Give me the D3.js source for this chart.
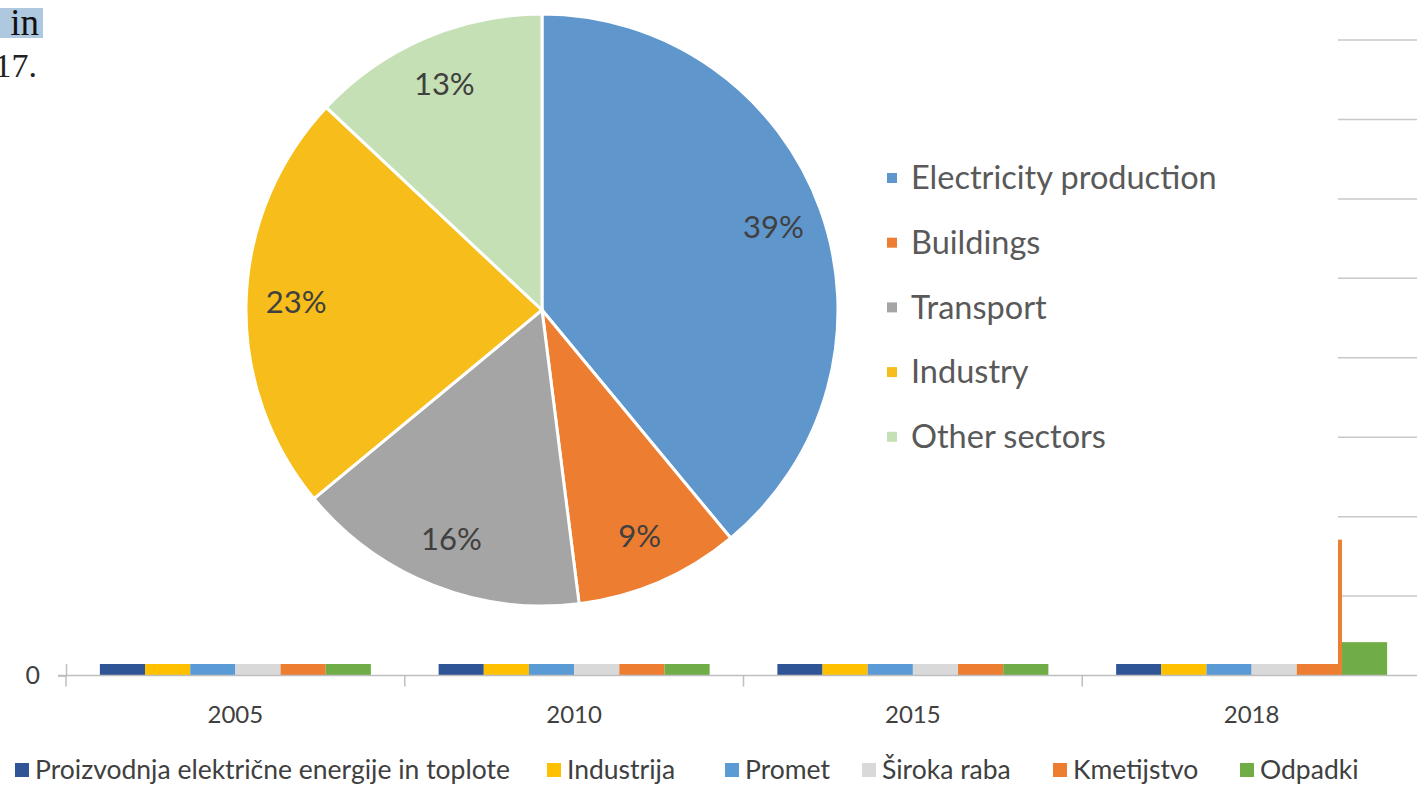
<!DOCTYPE html>
<html>
<head>
<meta charset="utf-8">
<script src="https://cdn.jsdelivr.net/npm/d3@7"></script>
<style>
  body { margin: 0; background: #fff; }
  svg { display: block; font-family: Lato, "Open Sans", sans-serif; }
</style>
</head>
<body>
<svg id="chart" width="1417" height="785"></svg>
<script>
// bar chart underneath (mostly hidden behind the pasted pie picture)
const years = ["2005", "2010", "2015", "2018"];
const sectors = ["Proizvodnja električne energije in toplote", "Industrija", "Promet", "Široka raba", "Kmetijstvo", "Odpadki"];
const sectorColors = ["#2f5597", "#ffc000", "#5b9bd5", "#d9d9d9", "#ed7d31", "#70ad47"];
// values per sector, one per year (kt CO2 eq, estimated; only 2018 Kmetijstvo / Odpadki are visible)
const proizvodnja = [6500, 6300, 4600, 4700];
const industrija = [3000, 2400, 2100, 2100];
const promet = [4500, 5400, 5400, 5800];
const sirokaRaba = [2000, 1800, 1200, 1200];
const kmetijstvo = [1800, 1750, 1700, 1710];
const odpadki = [650, 600, 450, 420];
const gridTicks = [1000, 2000, 3000, 4000, 5000, 6000, 7000, 8000];
const yLabelTicks = [0];   // the other labels sit behind the pasted picture

// pie on top
const pieLabels = ["Electricity production", "Buildings", "Transport", "Industry", "Other sectors"];
const pieValues = [39, 9, 16, 23, 13];
const pieColors = ["#5f97cd", "#ed7d31", "#a5a5a5", "#f6bd1b", "#c6e0b5"];

const svg = d3.select("#chart");
const seriesValues = [proizvodnja, industrija, promet, sirokaRaba, kmetijstvo, odpadki];

const x0 = d3.scaleBand().domain(years).range([66, 1421]);
const x1 = d3.scaleBand().domain(sectors)
    .range([x0.bandwidth() * 0.1, x0.bandwidth() * 0.9]);
const y = d3.scaleLinear().domain([0, 8000]).range([675.5, 40]);
const color = d3.scaleOrdinal().domain(sectors).range(sectorColors);

// gridlines
svg.append("g")
    .selectAll("line")
    .data(gridTicks)
    .enter()
    .append("line")
      .attr("x1", 66).attr("x2", 1417)
      .attr("y1", d => y(d)).attr("y2", d => y(d))
      .attr("stroke", "#c8c8c8").attr("stroke-width", 1.5);

// bars
const groups = svg.append("g")
    .selectAll("g")
    .data(years)
    .enter()
    .append("g")
      .attr("transform", d => `translate(${x0(d)},0)`);

groups.selectAll("rect")
    .data((yr, i) => sectors.map((s, j) => ({sector: s, value: seriesValues[j][i]})))
    .enter()
    .append("rect")
      .attr("x", d => x1(d.sector))
      .attr("width", x1.bandwidth())
      .attr("y", d => y(d.value))
      .attr("height", d => y(0) - y(d.value))
      .attr("fill", d => color(d.sector));

// x axis
const xAxis = svg.append("g")
    .attr("transform", `translate(0,${y(0)})`)
    .call(d3.axisBottom(x0).tickSize(0).tickPadding(30))
    .call(g => g.select(".domain").remove());
xAxis.selectAll("text")
    .attr("font-family", "Lato, 'Open Sans', sans-serif")
    .attr("font-size", 24).attr("fill", "#404040");

svg.append("line")
    .attr("x1", 58).attr("x2", 1417)
    .attr("y1", y(0)).attr("y2", y(0))
    .attr("stroke", "#bfbfbf").attr("stroke-width", 1.5);

// category separators
svg.append("g")
    .selectAll("line")
    .data(years)
    .enter()
    .append("line")
      .attr("x1", d => x0(d)).attr("x2", d => x0(d))
      .attr("y1", y(0)).attr("y2", y(0) + 11)
      .attr("stroke", "#bfbfbf").attr("stroke-width", 1.5);

// y axis
const yAxis = svg.append("g")
    .attr("transform", "translate(66,0)")
    .call(d3.axisLeft(y).tickValues(yLabelTicks).tickSize(8).tickPadding(18))
    .call(g => g.select(".domain").attr("stroke", "#bfbfbf").attr("stroke-width", 1.5));
yAxis.selectAll("line").attr("stroke", "#bfbfbf").attr("stroke-width", 1.5);
yAxis.selectAll("text")
    .attr("font-family", "Lato, 'Open Sans', sans-serif")
    .attr("font-size", 25).attr("fill", "#404040");

// bottom legend
const legendX = [15, 547, 725, 862, 1053, 1240];
const legend = svg.append("g").attr("transform", "translate(0,770)");
sectors.forEach((s, i) => {
    legend.append("rect")
        .attr("x", legendX[i]).attr("y", -7)
        .attr("width", 14).attr("height", 14)
        .attr("fill", color(s));
    legend.append("text")
        .attr("x", legendX[i] + 20)
        .attr("y", 0)
        .attr("dy", "0.35em")
        .attr("font-size", 26.5)
        .attr("fill", "#404040")
        .text(s);
});

// pasted picture with the pie on top of the bar chart
const paste = svg.append("g");
paste.append("rect")
    .attr("x", 0).attr("y", 0)
    .attr("width", 1338).attr("height", 664)
    .attr("fill", "#fff");

// fragment of document text in the corner
paste.append("rect")
    .attr("x", 0).attr("y", 8).attr("width", 43).attr("height", 30)
    .attr("fill", "#aec8df");
paste.append("text")
    .attr("x", 39).attr("y", 35)
    .attr("text-anchor", "end")
    .attr("font-family", "'Liberation Serif', serif")
    .attr("font-size", 37).attr("fill", "#111")
    .text("in");
paste.append("text")
    .attr("x", 37).attr("y", 77)
    .attr("text-anchor", "end")
    .attr("font-family", "'Liberation Serif', serif")
    .attr("font-size", 34).attr("fill", "#222")
    .text("17.");

const cx = 542, cy = 310, radius = 296;
const pie = d3.pie().sort(null).value(d => d);
const arc = d3.arc().innerRadius(0).outerRadius(radius);
const labelArc = d3.arc().innerRadius(246).outerRadius(246);
const pieColor = d3.scaleOrdinal().domain(pieLabels).range(pieColors);

const pieG = paste.append("g").attr("transform", `translate(${cx},${cy})`);
const slices = pie(pieValues);

pieG.selectAll("path")
    .data(slices)
    .enter()
    .append("path")
      .attr("d", arc)
      .attr("fill", (d, i) => pieColor(pieLabels[i]))
      .attr("stroke", "#fff")
      .attr("stroke-width", 3);

pieG.selectAll("text")
    .data(slices)
    .enter()
    .append("text")
      .attr("transform", d => `translate(${labelArc.centroid(d)})`)
      .attr("text-anchor", "middle")
      .attr("dy", "0.35em")
      .attr("font-size", 31)
      .attr("fill", "#404040")
      .text(d => d.data + "%");

const pieLegend = paste.append("g").attr("transform", "translate(887,178)");
pieLabels.forEach((label, i) => {
    pieLegend.append("rect")
        .attr("x", 0).attr("y", i * 64.7 - 5)
        .attr("width", 10).attr("height", 10)
        .attr("fill", pieColor(label));
    pieLegend.append("text")
        .attr("x", 24)
        .attr("y", i * 64.7)
        .attr("dy", "0.35em")
        .attr("font-size", 32.5)
        .attr("fill", "#595959")
        .text(label);
});
</script>
</body>
</html>
